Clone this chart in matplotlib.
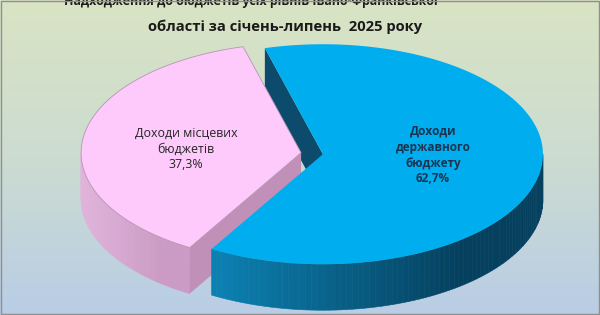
#!/usr/bin/env python3
"""
Exploded 3D-style pie: budget revenues of Ivano-Frankivsk oblast, Jan-Jul 2025.
Drawn with flat patches in pixel coordinates.
"""
import numpy as np
import matplotlib
matplotlib.use("Agg")
import matplotlib.pyplot as plt
from matplotlib.patches import Polygon, Rectangle
from matplotlib.colors import LinearSegmentedColormap, to_rgb

plt.rcParams["font.family"] = ["Open Sans", "DejaVu Sans"]

# ── Data ──────────────────────────────────────────────────────────────────
title_line1 = "Надходження до бюджетів усіх рівнів Івано-Франківської"
title_line2 = "області за січень-липень  2025 року"
shares = [62.7, 37.3]
names = ["Доходи\nдержавного\nбюджету", "Доходи місцевих\nбюджетів"]

# ── Geometry / style (pixels) ─────────────────────────────────────────────
W, H = 600, 315
CX, CY = 312, 153.5          # pie centre
RX, RY = 220, 110            # ellipse radii of the top face
DEPTH = 46                   # side wall height
EXPLODE = 0.05               # fraction of radius
START = 105.3                # degrees, boundary between the two slices

TOP_COL = ["#00aeef", "#fdcafb"]
CUT_COL = ["#0c4b6b", "#c190b9"]
SIDE_COL = [("#0b82b4", "#05405e"), ("#e2b4dc", "#cc9bc5")]
LABEL_POS = [(433, 155), (186, 149)]
LABEL_COL = ["#1b3550", "#262626"]
LABEL_W = ["bold", "normal"]
LABEL_FS = [8.5, 8.9]


def pt(c, th):
    t = np.radians(th)
    return np.array([c[0] + RX * np.cos(t), c[1] - RY * np.sin(t)])


def lerp(c1, c2, f):
    a, b = np.array(to_rgb(c1)), np.array(to_rgb(c2))
    return a + (b - a) * f


fig = plt.figure(figsize=(W / 100, H / 100), dpi=100)
ax = fig.add_axes([0, 0, 1, 1])
ax.set_xlim(0, W)
ax.set_ylim(H, 0)
ax.axis("off")

# background gradient
bg = LinearSegmentedColormap.from_list(
    "bg", ["#d9e4c4", "#ccdcd0", "#b9cde6"])
grad = np.linspace(0, 1, 256).reshape(-1, 1)
ax.imshow(grad, cmap=bg, extent=(0, W, H, 0), aspect="auto", zorder=0)

# slice angle ranges (blue clockwise from START, pink the rest)
span = [s / sum(shares) * 360 for s in shares]
ranges = [(START - span[0], START), (START, START + span[1])]
centres = []
for (t0, t1) in ranges:
    mid = np.radians((t0 + t1) / 2)
    centres.append((CX + EXPLODE * RX * np.cos(mid),
                    CY - EXPLODE * RY * np.sin(mid)))

down = np.array([0, DEPTH])


def cut_face(i, th, z):
    c = np.array(centres[i])
    o = pt(c, th)
    ax.add_patch(Polygon([c, o, o + down, c + down], closed=True,
                         facecolor=CUT_COL[i], edgecolor="none", zorder=z))


def side(i, t0, t1, z):
    c = centres[i]
    ths = np.linspace(t0, t1, 80)
    xs = [pt(c, t)[0] for t in ths]
    xmin, xmax = min(xs), max(xs)
    for a, b in zip(ths[:-1], ths[1:]):
        p0, p1 = pt(c, a), pt(c, b)
        f = min(1.0, ((p0[0] + p1[0]) / 2 - xmin) / (0.75 * (xmax - xmin)))
        ax.add_patch(Polygon([p0, p1, p1 + down, p0 + down], closed=True,
                             facecolor=lerp(*SIDE_COL[i], f),
                             edgecolor=lerp(*SIDE_COL[i], f), lw=0.4,
                             zorder=z))


def top(i, t0, t1, z, edge="none"):
    c = np.array(centres[i])
    ths = np.linspace(t0, t1, 200)
    pts = [c] + [pt(c, t) for t in ths]
    ax.add_patch(Polygon(pts, closed=True, facecolor=TOP_COL[i],
                         edgecolor=edge, lw=0.6, zorder=z))


# blue cut face at the boundary (sits behind the pink slice)
cut_face(0, ranges[0][1], 2)

# pink slice
p0, p1 = ranges[1]
side(1, 180, p1, 3)
cut_face(1, p1, 3)
top(1, p0, p1, 4, edge="#b596b2")

# blue slice
b0, b1 = ranges[0]
side(0, b0, 0, 5)
top(0, b0, b1, 6)

# labels
for i, (x, y) in enumerate(LABEL_POS):
    ax.text(x, y, f"{names[i]}\n{shares[i]:.1f}%".replace(".", ","),
            ha="center", va="center", fontsize=LABEL_FS[i],
            fontweight=LABEL_W[i], color=LABEL_COL[i], linespacing=1.3,
            zorder=10)

# title (first line clipped at the top edge, as in the source image)
ax.text(251, 2, title_line1, ha="center", va="center", fontsize=8.9,
        fontweight="bold", color="#1a1a1a", zorder=10)
ax.text(285, 27, title_line2, ha="center", va="center", fontsize=10.6,
        fontweight="bold", color="#1a1a1a", zorder=10)

# thin frame
ax.add_patch(Rectangle((0.5, 0.5), W - 1.5, H - 1.5, fill=False,
                       edgecolor="#8f8f8f", lw=1.0, zorder=11))

fig.savefig("out.png", dpi=100)
plt.close(fig)
